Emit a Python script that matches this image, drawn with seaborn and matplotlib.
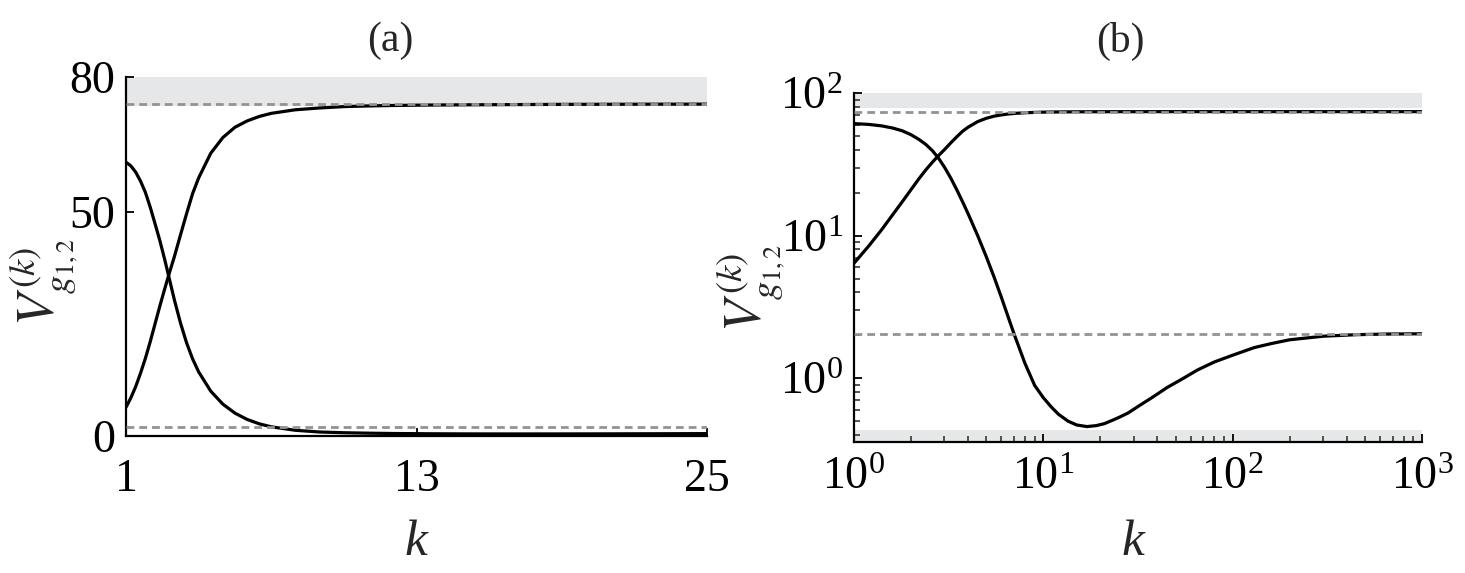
import numpy as np
import pandas as pd
import matplotlib
matplotlib.use("Agg")
import matplotlib.pyplot as plt
from matplotlib.ticker import LogLocator, LogFormatterMathtext, NullFormatter, FixedLocator
import seaborn as sns

# values (same curves in both panels)
K = [1.0, 1.2, 1.4, 1.6, 1.8, 2.0, 2.2, 2.4, 2.6, 2.8, 3.0, 3.25, 3.5, 3.75, 4.0,
     4.5, 5.0, 5.5, 6.0, 6.5, 7.0, 8.0, 9.0, 10, 11, 12, 13.5, 15, 17, 19,
     21, 23, 25, 28, 32, 38, 45, 55, 65, 80, 100, 130, 160, 200, 300,
     450, 650, 1000]
V_DOWN = [61, 60.2, 58.8, 56.8, 54.3, 51, 47.3, 43.5, 39.3, 34.8, 30.3, 25.2, 20.8, 17.2, 14.3,
          10.0, 7.1, 5.1, 3.7, 2.72, 2.05, 1.27, 0.89, 0.73, 0.63, 0.56, 0.5, 0.47, 0.458, 0.465,
          0.48, 0.505, 0.53, 0.57, 0.64, 0.74, 0.86, 1.0, 1.14, 1.3, 1.45, 1.64, 1.75, 1.86, 1.97,
          2.02, 2.04, 2.05]
V_UP = [6.4, 8.5, 11.0, 14.0, 17.3, 21, 25, 29, 32.8, 36.5, 40, 44.8, 49.5, 54, 57.5,
        63, 66.5, 68.8, 70.2, 71.2, 71.9, 72.7, 73.1, 73.4, 73.55, 73.65, 73.75, 73.8, 73.85, 73.9,
        73.92, 73.94, 73.95, 73.96, 73.97, 73.98, 73.99, 74, 74, 74, 74, 74, 74, 74, 74,
        74, 74, 74]
LIMITS = [2.05, 74.0]               # dashed asymptotes
BAND_A = [(73.6, 80)]               # grey bands, panel (a)
BAND_B = [(79, 100), (0.36, 0.43)]  # grey bands, panel (b)

df = pd.DataFrame({"k": K * 2, "v": V_DOWN + V_UP,
                   "curve": ["down"] * len(K) + ["up"] * len(K)})

sns.set_style("ticks")
plt.rcParams["font.family"] = ["Liberation Serif", "DejaVu Serif"]
plt.rcParams["mathtext.fontset"] = "stix"

W, H = 1465, 573
fig = plt.figure(figsize=(W / 100, H / 100), dpi=100)
ax_a = fig.add_axes([126 / W, 1 - 436 / H, 581 / W, 359 / H])
ax_b = fig.add_axes([854 / W, 1 - 441.5 / H, 568 / W, 348.5 / H])

GREY = "#e6e7e9"
DASH = "#939393"


def draw(ax, data, bands):
    for lo, hi in bands:
        ax.axhspan(lo, hi, color=GREY, lw=0, zorder=0)
    sns.lineplot(data=data, x="k", y="v", hue="curve", palette=["black", "black"],
                 lw=2.3, legend=False, ax=ax, zorder=2, estimator=None, sort=False)
    for y in LIMITS:
        ax.axhline(y, color=DASH, lw=2.0, dashes=(2.8, 1.8), zorder=3)
    sns.despine(ax=ax)
    for s in ("left", "bottom"):
        ax.spines[s].set_linewidth(1.6)
        ax.spines[s].set_color("black")
    ax.tick_params(which="major", direction="in", length=6, width=1.3,
                   labelsize=33, pad=8, colors="black")
    ax.tick_params(which="minor", direction="in", length=4, width=1.1)
    ax.set_xlabel("")
    ax.set_ylabel("")


# (a) linear
draw(ax_a, df[df["k"] <= 25], BAND_A)
ax_a.set_xlim(1, 25)
ax_a.set_ylim(0, 80)
ax_a.xaxis.set_major_locator(FixedLocator([1, 13, 25]))
ax_a.yaxis.set_major_locator(FixedLocator([0, 50, 80]))
ax_a.tick_params(axis="x", pad=16)

# (b) log-log
draw(ax_b, df, BAND_B)
ax_b.set_xscale("log")
ax_b.set_yscale("log")
ax_b.set_xlim(1, 1000)
ax_b.set_ylim(0.36, 100)
for axis in (ax_b.xaxis, ax_b.yaxis):
    axis.set_major_locator(LogLocator(base=10))
    axis.set_minor_locator(LogLocator(base=10, subs=np.arange(2, 10)))
    axis.set_major_formatter(LogFormatterMathtext())
    axis.set_minor_formatter(NullFormatter())
ax_b.tick_params(axis="x", which="major", pad=11)

ylab = r"$V_{g_{1,2}}^{(k)}$"
fig.text(44 / W, 1 - 282 / H, ylab, rotation=90, ha="center", va="center", fontsize=38)
fig.text(751 / W, 1 - 288 / H, ylab, rotation=90, ha="center", va="center", fontsize=38)

fig.text(390 / W, 1 - 41 / H, "(a)", ha="center", va="center", fontsize=30)
fig.text(1120 / W, 1 - 41 / H, "(b)", ha="center", va="center", fontsize=30)
fig.text(416 / W, 1 - 543 / H, "k", style="italic", ha="center", va="center", fontsize=37)
fig.text(1133 / W, 1 - 543 / H, "k", style="italic", ha="center", va="center", fontsize=37)

fig.savefig("out.png", dpi=100)
